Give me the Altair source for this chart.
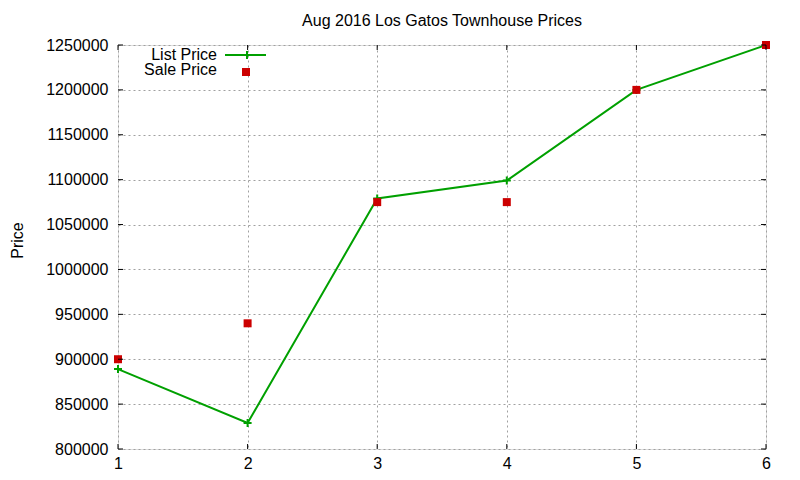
import altair as alt
import pandas as pd

# ---- data ----
listing = [1, 2, 3, 4, 5, 6]
list_price = [889000, 829000, 1079000, 1099000, 1200000, 1250000]
sale_price = [900000, 940000, 1075000, 1075000, 1200000, 1250000]
y_ticks = [800000, 850000, 900000, 950000, 1000000, 1050000, 1100000, 1150000, 1200000, 1250000]
x_ticks = [1, 2, 3, 4, 5, 6]
legend_labels = ["List Price", "Sale Price"]

W, H = 648, 404
FONT = "Liberation Sans"
GREEN = "#00a000"
RED = "#cc0000"

df = pd.DataFrame({"n": listing, "list": list_price, "sale": sale_price})
ydf = pd.DataFrame({"v": y_ticks})
xdf = pd.DataFrame({"v": x_ticks})

xs = alt.Scale(domain=[1, 6], nice=False, zero=False)
ys = alt.Scale(domain=[800000, 1250000], nice=False, zero=False)

x_axis = alt.Axis(values=x_ticks, format="d", title=None, ticks=False, domain=False,
                  grid=True, gridDash=[2, 3], gridColor="#a0a0a0", gridWidth=1,
                  labelFont=FONT, labelFontSize=16, labelColor="black", labelPadding=6,
                  labelFlush=False)
y_axis = alt.Axis(values=y_ticks, format="d", title="Price", ticks=False, domain=False,
                  grid=True, gridDash=[2, 3], gridColor="#a0a0a0", gridWidth=1,
                  labelFont=FONT, labelFontSize=16, labelColor="black", labelPadding=10,
                  labelFlush=False,
                  titleFont=FONT, titleFontSize=16, titleFontWeight="normal", titleColor="black",
                  titleX=-101, titleY=195, titleAlign="center", titleBaseline="middle", titleAngle=270)

base = alt.Chart(df)

line = base.mark_line(color=GREEN, strokeWidth=2).encode(
    x=alt.X("n:Q", scale=xs, axis=x_axis),
    y=alt.Y("list:Q", scale=ys, axis=y_axis),
)
plus_path = "M-1,0L1,0M0,-1L0,1"
plus = base.mark_point(shape=plus_path, size=64, filled=False, color=GREEN, strokeWidth=2, opacity=1).encode(
    x=alt.X("n:Q", scale=xs), y=alt.Y("list:Q", scale=ys)
)
squares = base.mark_square(size=64, color=RED, opacity=1).encode(
    x=alt.X("n:Q", scale=xs), y=alt.Y("sale:Q", scale=ys)
)

# inward ticks on all four sides
yt_left = alt.Chart(ydf).mark_rule(color="black", strokeWidth=1).encode(
    y=alt.Y("v:Q", scale=ys), x=alt.value(0), x2=alt.value(5))
yt_right = alt.Chart(ydf).mark_rule(color="black", strokeWidth=1).encode(
    y=alt.Y("v:Q", scale=ys), x=alt.value(W - 5), x2=alt.value(W))
xt_bottom = alt.Chart(xdf).mark_rule(color="black", strokeWidth=1).encode(
    x=alt.X("v:Q", scale=xs), y=alt.value(H - 5), y2=alt.value(H))
xt_top = alt.Chart(xdf).mark_rule(color="black", strokeWidth=1).encode(
    x=alt.X("v:Q", scale=xs), y=alt.value(0), y2=alt.value(5))

# legend (inside, top-left)
leg1 = pd.DataFrame({"t": [legend_labels[0]]})
leg2 = pd.DataFrame({"t": [legend_labels[1]]})
leg_text1 = alt.Chart(leg1).mark_text(align="right", baseline="middle", font=FONT, fontSize=16,
                                      color="black").encode(text="t:N", x=alt.value(99), y=alt.value(10))
leg_text2 = alt.Chart(leg2).mark_text(align="right", baseline="middle", font=FONT, fontSize=16,
                                      color="black").encode(text="t:N", x=alt.value(99), y=alt.value(25))
leg_line = alt.Chart(leg1).mark_rule(color=GREEN, strokeWidth=2).encode(
    x=alt.value(107), x2=alt.value(148), y=alt.value(10))
leg_plus = alt.Chart(leg1).mark_point(shape=plus_path, size=64, filled=False, color=GREEN,
                                      strokeWidth=2, opacity=1).encode(x=alt.value(129), y=alt.value(10))
leg_sq = alt.Chart(leg2).mark_square(size=64, color=RED, opacity=1).encode(
    x=alt.value(128), y=alt.value(27))

chart = alt.layer(
    line, plus, squares, yt_left, yt_right, xt_bottom, xt_top,
    leg_text1, leg_text2, leg_line, leg_plus, leg_sq,
).properties(
    width=W, height=H,
    title=alt.TitleParams("Aug 2016 Los Gatos Townhouse Prices", font=FONT, fontSize=16,
                          fontWeight="normal", color="black", anchor="middle", offset=8),
    autosize=alt.AutoSizeParams(type="none"),
    padding={"left": 110, "top": 37, "right": 26, "bottom": 23},
).configure_view(stroke="black", strokeWidth=1).configure(background="white")

chart.save("out.html", embed_options={"renderer": "svg", "actions": False})
